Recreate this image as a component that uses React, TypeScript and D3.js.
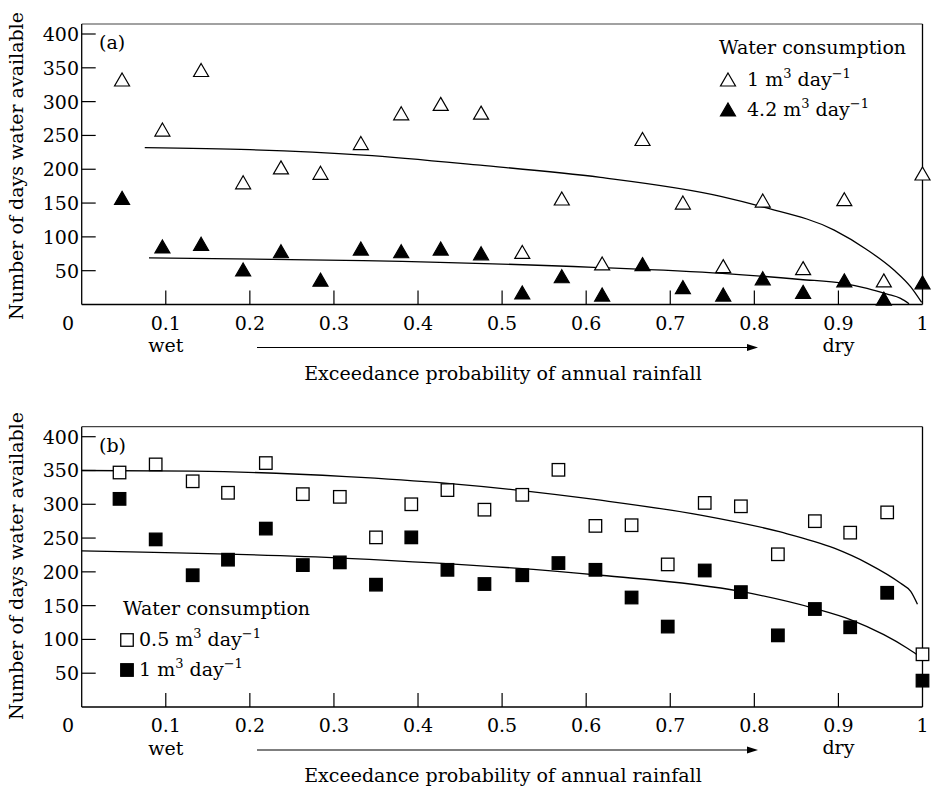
import React from "react";
import * as d3 from "d3";

// ---- Panel (a) data ----
const pA = [0.048, 0.096, 0.142, 0.192, 0.237, 0.284, 0.332, 0.380, 0.427, 0.475, 0.524, 0.571, 0.619, 0.667, 0.715, 0.763, 0.810, 0.858, 0.907, 0.954, 1.0];
const aOpen = [332, 258, 346, 180, 202, 194, 238, 282, 296, 283, 77, 156, 60, 244, 150, 56, 153, 53, 155, 35, 193];
const aFilled = [157, 85, 89, 51, 78, 36, 82, 78, 82, 75, 17, 41, 14, 59, 25, 14, 38, 18, 35, 8, 32];
const fitAOpenP = [0.075, 0.2, 0.335, 0.474, 0.617, 0.76, 0.811, 0.895, 0.934, 0.966, 0.986, 0.999];
const fitAOpenV = [232, 229, 221, 206, 188, 160, 144, 110, 81, 51, 26, 3];
const fitAFilledP = [0.08, 0.335, 0.609, 0.762, 0.855, 0.907, 0.934, 0.958, 0.974, 0.984];
const fitAFilledV = [69, 65, 55, 46, 37, 31, 24, 15.5, 9, 1];

// ---- Panel (b) data ----
const pB = [0.045, 0.088, 0.132, 0.174, 0.219, 0.263, 0.307, 0.350, 0.392, 0.435, 0.479, 0.524, 0.567, 0.611, 0.654, 0.697, 0.741, 0.784, 0.828, 0.872, 0.914, 0.958, 1.0];
const bOpen = [347, 359, 334, 317, 361, 315, 311, 251, 300, 321, 292, 314, 351, 268, 269, 211, 302, 297, 226, 275, 258, 288, 78];
const bFilled = [308, 248, 195, 218, 264, 210, 214, 181, 251, 203, 182, 195, 213, 203, 162, 119, 202, 170, 106, 145, 118, 169, 39];
const fitBOpenP = [0, 0.133, 0.315, 0.435, 0.617, 0.736, 0.831, 0.895, 0.934, 0.974, 0.986, 0.994];
const fitBOpenV = [350, 349, 341, 331, 306, 284, 259, 235, 213, 183, 171, 152];
const fitBFilledP = [0, 0.315, 0.617, 0.784, 0.871, 0.915, 0.954, 0.982, 0.994];
const fitBFilledV = [231, 220, 195, 171, 146, 129, 107, 87, 77];

// ---- Axis ticks ----
const xTicks = [0.1, 0.2, 0.3, 0.4, 0.5, 0.6, 0.7, 0.8, 0.9];
const xTickLabels = ["0.1", "0.2", "0.3", "0.4", "0.5", "0.6", "0.7", "0.8", "0.9"];
const yTicks = [50, 100, 150, 200, 250, 300, 350, 400];

const FONT = "'DejaVu Serif', serif";
const FS = 19;

const x = d3.scaleLinear().domain([0, 1]).range([81.7, 922.5]);

function triPath(cx: number, cy: number) {
  return `M${cx},${cy - 7}L${cx + 7.5},${cy + 6}L${cx - 7.5},${cy + 6}Z`;
}

function UnitText({ x0, y0, num }: { x0: number; y0: number; num: string }) {
  return (
    <text x={x0} y={y0} fontFamily={FONT} fontSize={FS} fill="#000">
      <tspan>{num} m</tspan>
      <tspan dy={-8} fontSize={13}>3</tspan>
      <tspan dy={8}> day</tspan>
      <tspan dy={-8} fontSize={13}>−1</tspan>
    </text>
  );
}

function Panel({
  y0, y400, top, label, labelY, marker, openV, filledV, pts, fits, legend,
}: any) {
  const y = d3.scaleLinear().domain([0, 400]).range([y0, y400]);
  const left = x(0);
  const right = x(1);
  const line = d3
    .line<[number, number]>()
    .x((d) => x(d[0]))
    .y((d) => y(d[1]))
    .curve(d3.curveMonotoneX);
  const tickLabelY = y0 + 25;
  const sq = 12.5;
  const drawMarker = (cx: number, cy: number, filled: boolean, key: string) =>
    marker === "tri" ? (
      <path key={key} d={triPath(cx, cy)} fill={filled ? "#000" : "#fff"} stroke="#000" strokeWidth={1.2} />
    ) : (
      <rect key={key} x={cx - sq / 2} y={cy - sq / 2} width={sq} height={sq} fill={filled ? "#000" : "#fff"} stroke="#000" strokeWidth={1.3} />
    );
  return (
    <g>
      {/* frame */}
      <line x1={left} x2={right} y1={top} y2={top} stroke="#444" strokeWidth={1.2} />
      <line x1={right} x2={right} y1={top} y2={y0} stroke="#000" strokeWidth={1.3} />
      <line x1={left} x2={left} y1={top} y2={y0} stroke="#000" strokeWidth={1.3} />
      <line x1={left} x2={right} y1={y0} y2={y0} stroke="#000" strokeWidth={1.3} />
      {/* ticks */}
      {xTicks.map((t, i) => (
        <g key={"xt" + i}>
          <line x1={x(t)} x2={x(t)} y1={y0} y2={y0 - 14} stroke="#000" strokeWidth={1.2} />
          <text x={x(t)} y={tickLabelY} textAnchor="middle" fontFamily={FONT} fontSize={FS}>{xTickLabels[i]}</text>
        </g>
      ))}
      <text x={68} y={tickLabelY} textAnchor="middle" fontFamily={FONT} fontSize={FS}>0</text>
      <text x={right} y={tickLabelY} textAnchor="middle" fontFamily={FONT} fontSize={FS}>1</text>
      {yTicks.map((t) => (
        <g key={"yt" + t}>
          <line x1={left} x2={left + 14} y1={y(t)} y2={y(t)} stroke="#000" strokeWidth={1.2} />
          <text x={79} y={y(t) + 7} textAnchor="end" fontFamily={FONT} fontSize={FS}>{t}</text>
        </g>
      ))}
      {/* wet / dry, arrow, x title */}
      <text x={x(0.1)} y={y0 + 47.5} textAnchor="middle" fontFamily={FONT} fontSize={FS}>wet</text>
      <text x={x(0.9)} y={y0 + 47} textAnchor="middle" fontFamily={FONT} fontSize={FS}>dry</text>
      <line x1={257} x2={749} y1={y0 + 43} y2={y0 + 43} stroke="#000" strokeWidth={1.2} />
      <path d={`M${747},${y0 + 39.5}L${758},${y0 + 43}L${747},${y0 + 46.5}Z`} fill="#000" />
      <text x={503} y={y0 + 75} textAnchor="middle" fontFamily={FONT} fontSize={FS}>Exceedance probability of annual rainfall</text>
      {/* y title */}
      <text transform={`translate(23,${labelY}) rotate(-90)`} textAnchor="middle" fontFamily={FONT} fontSize={FS}>Number of days water available</text>
      {/* panel label */}
      <text x={99} y={top + 25} fontFamily={FONT} fontSize={FS}>{label}</text>
      {/* fits */}
      {fits.map((f: any, i: number) => (
        <path key={"fit" + i} d={line(f.p.map((pp: number, j: number) => [pp, f.v[j]]) as any) || ""} fill="none" stroke="#000" strokeWidth={1.3} />
      ))}
      {/* points */}
      {pts.map((pp: number, i: number) => drawMarker(x(pp), y(openV[i]), false, "o" + i))}
      {pts.map((pp: number, i: number) => drawMarker(x(pp), y(filledV[i]), true, "f" + i))}
      {/* legend */}
      <text x={legend.x} y={legend.y} fontFamily={FONT} fontSize={FS}>Water consumption</text>
      {drawMarker(legend.mx, legend.y1 - 6, false, "lo")}
      <UnitText x0={legend.tx} y0={legend.y1} num={legend.n1} />
      {drawMarker(legend.mx, legend.y2 - 6, true, "lf")}
      <UnitText x0={legend.tx} y0={legend.y2} num={legend.n2} />
    </g>
  );
}

export default function App() {
  return (
    <svg width={934} height={788} style={{ position: "absolute", left: 0, top: 0, background: "#fff" }}>
      <rect x={0} y={0} width={934} height={788} fill="#fff" />
      <Panel
        y0={304.5}
        y400={34}
        top={24}
        label="(a)"
        labelY={166}
        marker="tri"
        openV={aOpen}
        filledV={aFilled}
        pts={pA}
        fits={[{ p: fitAOpenP, v: fitAOpenV }, { p: fitAFilledP, v: fitAFilledV }]}
        legend={{ x: 719, y: 54, mx: 728, tx: 747, y1: 86, y2: 116, n1: "1", n2: "4.2" }}
      />
      <Panel
        y0={707}
        y400={436.7}
        top={426.7}
        label="(b)"
        labelY={566}
        marker="sq"
        openV={bOpen}
        filledV={bFilled}
        pts={pB}
        fits={[{ p: fitBOpenP, v: fitBOpenV }, { p: fitBFilledP, v: fitBFilledV }]}
        legend={{ x: 123, y: 615, mx: 127, tx: 139, y1: 646, y2: 676, n1: "0.5", n2: "1" }}
      />
    </svg>
  );
}
